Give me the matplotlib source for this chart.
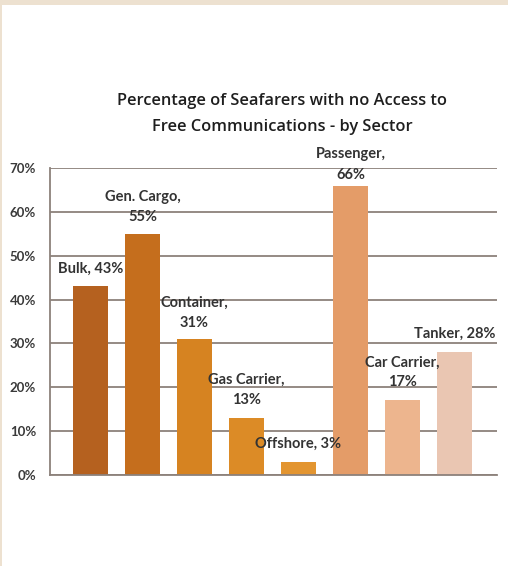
import matplotlib
matplotlib.use("Agg")
import matplotlib.pyplot as plt
from matplotlib.patches import Rectangle
from matplotlib.ticker import FuncFormatter

# Survey results by sector
sectors = ["Bulk", "Gen. Cargo", "Container", "Gas Carrier", "Offshore",
           "Passenger", "Car Carrier", "Tanker"]
values = [43, 55, 31, 13, 3, 66, 17, 28]
wrap_label = [False, True, True, True, False, True, True, False]
label_gap_px = [19, 18, 17, 19, 19, 12, 19, 19]
bar_colors = ["#B5611F", "#C56E1D", "#D68321", "#DC8B26", "#E39530",
              "#E49C68", "#EDB58E", "#EAC6B2"]
y_ticks = [0, 10, 20, 30, 40, 50, 60, 70]
title_lines = ["Percentage of Seafarers with no Access to",
               "Free Communications - by Sector"]

W, H = 508, 566
fig = plt.figure(figsize=(W / 100, H / 100), dpi=100)
fig.patch.set_facecolor("#EDE1D0")
fig.patches.append(Rectangle((2 / W, 0), 1, 1 - 5 / H, transform=fig.transFigure,
                             facecolor="white", edgecolor="none", zorder=-5))

ax = fig.add_axes([50 / W, (H - 475) / H, (497 - 50) / W, (475 - 168) / H])
ax.set_zorder(2)
ax.set_facecolor("none")

x = list(range(len(sectors)))
ax.bar(x, values, width=0.67, color=bar_colors, zorder=3)

ax.set_xlim(-0.78, 7.82)
ax.set_ylim(0, 70)
ax.set_yticks(y_ticks)
ax.yaxis.set_major_formatter(FuncFormatter(lambda v, p: f"{int(v)}%"))
ax.set_xticks([])

grid_color = "#8C817B"
ax.grid(axis="y", color=grid_color, linewidth=1.3, zorder=1)
ax.set_axisbelow(True)
for s in ("top", "right"):
    ax.spines[s].set_visible(False)
for s in ("left", "bottom"):
    ax.spines[s].set_color(grid_color)
    ax.spines[s].set_linewidth(1.3)
    ax.spines[s].set_zorder(4)

ax.tick_params(axis="y", length=0, pad=10, labelsize=9.5, labelcolor="#3A3A3A")
for t in ax.get_yticklabels():
    t.set_fontfamily("Lato")
    t.set_fontweight("bold")

for i, (name, v) in enumerate(zip(sectors, values)):
    text = f"{name},\n{v}%" if wrap_label[i] else f"{name}, {v}%"
    ax.annotate(text, xy=(i, v), xytext=(0, label_gap_px[i] - 8),
                textcoords="offset pixels", ha="center", va="bottom",
                fontsize=10.5, family="Lato", fontweight="bold",
                color="#333333", linespacing=1.55, zorder=5,
                annotation_clip=False)

for k, line in enumerate(title_lines):
    fig.text(282 / W, 1 - (101 + 26 * k) / H, line, ha="center", va="center",
             fontsize=11.8, family="Open Sans", fontweight="semibold",
             color="#1E1E1E")

fig.savefig("out.png", dpi=100, facecolor=fig.get_facecolor())
